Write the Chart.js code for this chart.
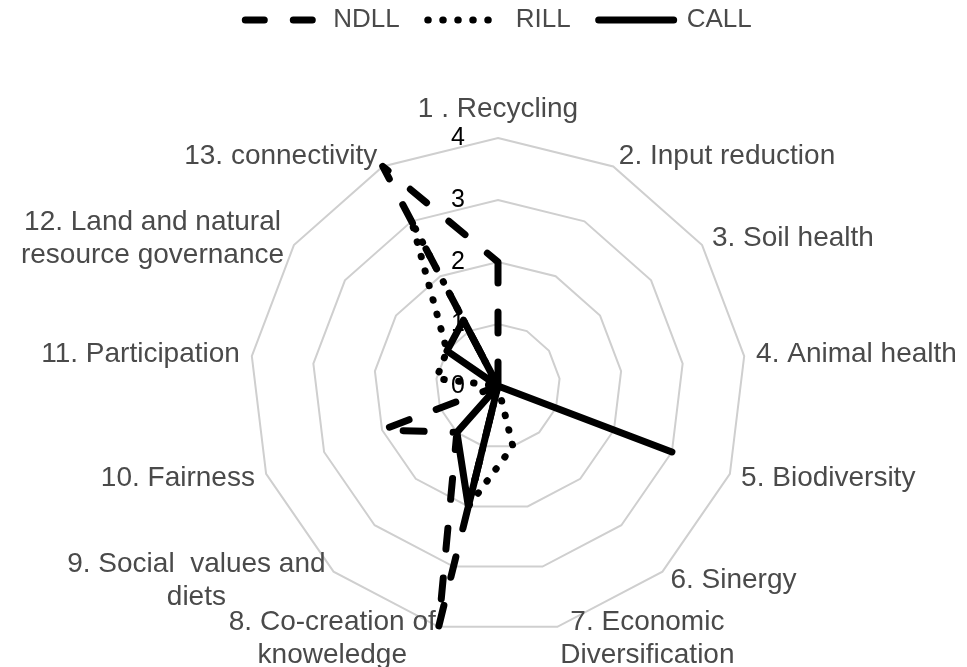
<!DOCTYPE html>
<html lang="en">
<head>
    <meta charset="UTF-8">
    <script src="https://cdn.jsdelivr.net/npm/chart.js"></script>
    <title>Agroecology radar</title>
    <style>
        body { margin: 0; background: #fff; }
    </style>
</head>
<body>
    <canvas id="myChart" width="967" height="667"></canvas>
    <script>
        // axis labels, one per spoke (arrays = two lines)
        const categories = [
            '1 . Recycling',
            '2. Input reduction',
            '3. Soil health',
            '4. Animal health',
            '5. Biodiversity',
            '6. Sinergy',
            ['7. Economic', 'Diversification'],
            ['8. Co-creation of', 'knoweledge'],
            ['9. Social  values and', 'diets'],
            '10. Fairness',
            '11. Participation',
            ['12. Land and natural', 'resource governance'],
            '13. connectivity'
        ]
        const seriesNames = ['NDLL', 'RILL', 'CALL']
        const ndll = [2, 0, 0, 0, 0, 0, 0, 4, 1, 2, 0, 0, 4]
        const rill = [0, 0, 0, 0, 0, 0, 1, 2, 0, 0, 1, 1, 3]
        const call = [0, 0, 0, 0, 3, 0, 0, 2, 1, 0, 0, 1, 1.2]
        const tickLabels = ['0', '1', '2', '3', '4']

        const labelFont = '28px "Liberation Sans", Arial, sans-serif'
        const tickFont = '25px "Liberation Sans", Arial, sans-serif'
        const textGrey = '#4a4a4a'

        // Excel-like labels: drawn at the library's spoke positions
        const axisText = {
            id: 'axisText',
            beforeDatasetsDraw(chart) {
                const scale = chart.scales.r
                const ctx = chart.ctx
                ctx.save()
                ctx.font = tickFont
                ctx.fillStyle = '#000'
                ctx.textAlign = 'center'
                ctx.textBaseline = 'middle'
                scale.ticks.forEach((t, i) => {
                    const y = scale.yCenter - scale.getDistanceFromCenterForValue(t.value)
                    ctx.fillText(tickLabels[i], scale.xCenter - 40, y)
                })
                ctx.restore()
            },
            afterDraw(chart) {
                const scale = chart.scales.r
                const ctx = chart.ctx
                const lh = 33
                ctx.save()
                ctx.font = labelFont
                ctx.fillStyle = textGrey
                ctx.textAlign = 'center'
                ctx.textBaseline = 'middle'
                categories.forEach((label, i) => {
                    const lines = Array.isArray(label) ? label : [label]
                    const pos = scale.getPointPosition(i, scale.drawingArea + 12)
                    const angle = scale.getIndexAngle(i)
                    const sin = Math.sin(angle)
                    const blockW = Math.max(...lines.map(l => ctx.measureText(l).width))
                    let left
                    if (Math.abs(sin) < 0.05) left = pos.x - blockW / 2
                    else if (sin > 0) left = pos.x
                    else left = pos.x - blockW
                    const top = Math.cos(angle) > 0.99 ? pos.y - lines.length * lh : pos.y - lines.length * lh / 2
                    lines.forEach((l, k) => ctx.fillText(l, left + blockW / 2, top + lh * k + lh / 2))
                })
                ctx.restore()
            }
        }

        const styles = [
            { borderDash: [21, 29] },
            { borderDash: [0.5, 14.5] },
            { borderDash: [] }
        ]
        const values = [ndll, rill, call]

        new Chart(document.getElementById('myChart'), {
            type: 'radar',
            data: {
                labels: categories,
                datasets: seriesNames.map((name, i) => ({
                    label: name,
                    data: values[i],
                    borderColor: '#000',
                    backgroundColor: '#000',
                    borderWidth: 7,
                    borderDash: styles[i].borderDash,
                    borderCapStyle: 'round',
                    borderJoinStyle: 'round',
                    fill: false,
                    pointRadius: 0,
                    pointHoverRadius: 0,
                    tension: 0
                }))
            },
            options: {
                responsive: false,
                animation: false,
                layout: { padding: { top: -21, bottom: 33, left: 30, right: 0 } },
                plugins: {
                    legend: {
                        position: 'top',
                        weight: 1000,
                        labels: {
                            usePointStyle: true,
                            pointStyleWidth: 75,
                            padding: 28,
                            color: textGrey,
                            font: { size: 26, family: '"Liberation Sans", Arial, sans-serif' },
                            generateLabels: (chart) => chart.data.datasets.map((ds, i) => ({
                                text: ds.label,
                                datasetIndex: i,
                                strokeStyle: '#000',
                                fillStyle: '#000',
                                lineWidth: 7,
                                lineDash: i === 0 ? [19, 29] : ds.borderDash,
                                lineCap: 'round',
                                pointStyle: 'line',
                                fontColor: textGrey,
                                hidden: false
                            }))
                        }
                    },
                    // empty spacer between legend and plot
                    title: { display: true, text: '', weight: 500, font: { size: 10 }, padding: { top: 83, bottom: 0 } },
                    tooltip: { enabled: false }
                },
                scales: {
                    r: {
                        min: 0,
                        max: 4,
                        ticks: { stepSize: 1, display: false },
                        angleLines: { display: false },
                        grid: { color: '#cfcfcf', lineWidth: 2 },
                        pointLabels: { display: false }
                    }
                }
            },
            plugins: [axisText]
        })
    </script>
</body>
</html>
